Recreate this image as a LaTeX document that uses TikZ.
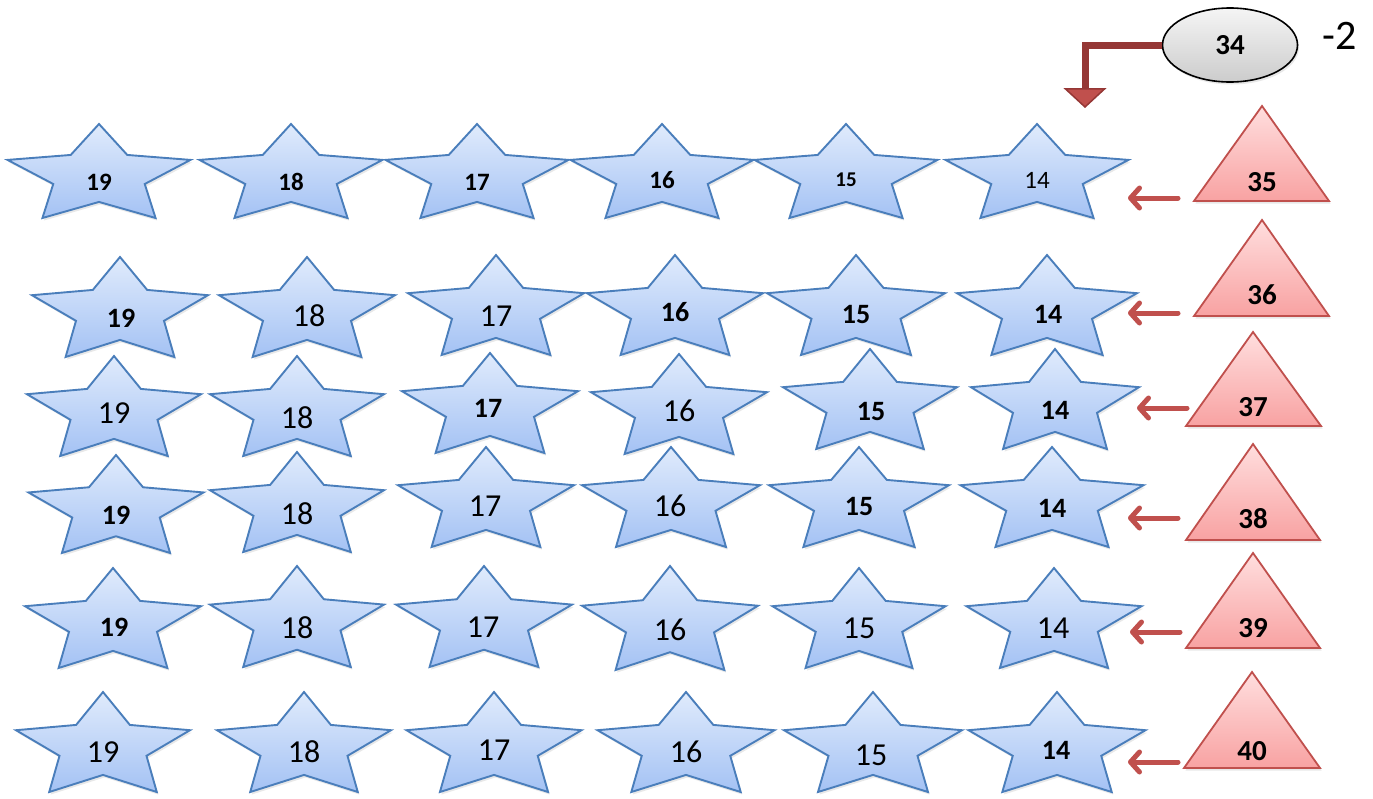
\documentclass[tikz,border=0pt]{standalone}
\usepackage{fontspec}
\setmainfont{Carlito}
\usetikzlibrary{arrows.meta,shapes.geometric,shadows,calc}
\definecolor{starTop}{HTML}{E0EBFC}
\definecolor{starBot}{HTML}{A4C2F4}
\definecolor{starLine}{HTML}{4A7EBB}
\definecolor{triTop}{HTML}{FFDEDE}
\definecolor{triBot}{HTML}{F8A2A2}
\definecolor{triLine}{HTML}{C0504D}
\definecolor{arrRed}{HTML}{C0504D}
\definecolor{elbowRed}{HTML}{953735}
\tikzset{
  starsty/.style={draw=starLine, line width=1.9pt, line join=miter, top color=starTop, bottom color=starBot,
    drop shadow={opacity=0.18, shadow xshift=1.5pt, shadow yshift=-2.5pt}},
  tristy/.style={draw=triLine, line width=1.8pt, top color=triTop, bottom color=triBot,
    drop shadow={opacity=0.18, shadow xshift=1.5pt, shadow yshift=-2.5pt}},
  lr/.style={inner sep=0pt, font=\fontsize{32}{34}\selectfont},
  lb/.style={inner sep=0pt, font=\fontsize{28}{30}\selectfont\bfseries},
  lbone/.style={inner sep=0pt, font=\fontsize{25}{27}\selectfont\bfseries},
  lbsmall/.style={inner sep=0pt, font=\fontsize{21}{23}\selectfont\bfseries},
  lrone/.style={inner sep=0pt, font=\fontsize{25}{27}\selectfont},
  tlbl/.style={inner sep=0pt, font=\fontsize{29}{31}\selectfont\bfseries},
  shortarr/.style={draw=arrRed, line width=5pt, line cap=round, -{Straight Barb[length=9pt, width=20pt, round]}},
  elbow/.style={draw=elbowRed, line width=7pt, -{Triangle[length=20pt, width=43pt, fill=arrRed, line width=1.5pt]}}
}
% star: name, cx, ytop, W, H, label x, label y, label style, text
\newcommand\StarAt[9]{%
  \path[starsty, shift={(#2,{-(#3)-(#5)/1.809})}, xscale={(#4)/1.902}, yscale={(#5)/1.809}]
    (90:1) -- (54:0.5) -- (18:1) -- (-18:0.5) -- (-54:1) -- (-90:0.5)
    -- (-126:1) -- (-162:0.5) -- (162:1) -- (126:0.5) -- cycle;
  \node[#8] (#1) at (#6,-#7) {#9};
}
% triangle: name, apex x, apex y, base left, base right, base y, label x, label y, text
\newcommand\TriAt[9]{%
  \path[tristy] (#2,-#3) -- (#5,-#6) -- (#4,-#6) -- cycle;
  \node[tlbl] (#1) at (#7,-#8) {#9};
}
\begin{document}
\begin{tikzpicture}[x=1pt, y=1pt]
\useasboundingbox (0,0) rectangle (1373,-798);
\fill[white] (0,0) rectangle (1373,-798);

% Row 1
\StarAt{s1n19}{99}{124}{183}{94}{99}{182}{lbone}{19}
\StarAt{s1n18}{291}{124}{183}{94}{291}{182}{lbone}{18}
\StarAt{s1n17}{477}{124}{183}{94}{477}{182}{lbone}{17}
\StarAt{s1n16}{662}{124}{183}{94}{662}{180}{lbone}{16}
\StarAt{s1n15}{846}{124}{183}{94}{846}{180}{lbsmall}{15}
\StarAt{s1n14}{1037}{124}{183}{94}{1037}{180}{lrone}{14}

% Row 2
\StarAt{s2n19}{120}{257}{176}{100}{121}{318}{lb}{19}
\StarAt{s2n18}{307}{257}{176}{100}{309}{316}{lr}{18}
\StarAt{s2n17}{496}{255}{176}{100}{496}{316}{lr}{17}
\StarAt{s2n16}{675}{255}{176}{100}{675}{312}{lb}{16}
\StarAt{s2n15}{856}{255}{178}{100}{856}{314}{lb}{15}
\StarAt{s2n14}{1047}{255}{180}{100}{1048}{314}{lb}{14}

% Row 3
\StarAt{s3n19}{114}{356}{174}{100}{114}{413}{lr}{19}
\StarAt{s3n18}{297}{356}{174}{100}{297}{418}{lr}{18}
\StarAt{s3n17}{490}{353}{176}{100}{488}{408}{lb}{17}
\StarAt{s3n16}{679}{354}{176}{100}{679}{411}{lr}{16}
\StarAt{s3n15}{870}{349}{174}{100}{871}{411}{lb}{15}
\StarAt{s3n14}{1055}{349}{168}{100}{1055}{410}{lb}{14}

% Row 4
\StarAt{s4n19}{116}{455}{175}{98}{116}{515}{lb}{19}
\StarAt{s4n18}{297}{452}{174}{100}{297}{514}{lr}{18}
\StarAt{s4n17}{486}{447}{176}{100}{485}{506}{lr}{17}
\StarAt{s4n16}{671}{447}{178}{100}{670}{506}{lr}{16}
\StarAt{s4n15}{859}{447}{180}{100}{859}{506}{lb}{15}
\StarAt{s4n14}{1052}{447}{183}{100}{1052}{508}{lb}{14}

% Row 5
\StarAt{s5n19}{113}{568}{176}{100}{114}{627}{lb}{19}
\StarAt{s5n18}{297}{566}{174}{101}{297}{628}{lr}{18}
\StarAt{s5n17}{484}{566}{176}{101}{483}{627}{lr}{17}
\StarAt{s5n16}{670}{566}{176}{104}{670}{630}{lr}{16}
\StarAt{s5n15}{859}{568}{173}{100}{859}{628}{lr}{15}
\StarAt{s5n14}{1054}{568}{175}{100}{1053}{628}{lr}{14}

% Row 6
\StarAt{s6n19}{103}{692}{174}{100}{103}{752}{lr}{19}
\StarAt{s6n18}{304}{692}{174}{100}{304}{752}{lr}{18}
\StarAt{s6n17}{494}{692}{175}{100}{494}{750}{lr}{17}
\StarAt{s6n16}{686}{692}{177}{100}{686}{752}{lr}{16}
\StarAt{s6n15}{873}{692}{178}{100}{871}{755}{lr}{15}
\StarAt{s6n14}{1057}{692}{177}{100}{1056}{750}{lb}{14}

% Triangles
\TriAt{t35}{1262}{106}{1194}{1329}{201}{1262}{182}{35}
\TriAt{t36}{1262}{220}{1194}{1329}{316}{1262}{295}{36}
\TriAt{t37}{1253}{332}{1186}{1321}{426}{1253}{407}{37}
\TriAt{t38}{1253}{444}{1186}{1320}{540}{1253}{519}{38}
\TriAt{t39}{1253}{553}{1186}{1320}{648}{1253}{628}{39}
\TriAt{t40}{1252}{672}{1184}{1320}{768}{1252}{751}{40}

% short arrows
\draw[shortarr] ($(t35)+(-84,-16)$) -- ($(s1n14)+(91,-18)$);
\draw[shortarr] ($(t36)+(-84,-18)$) -- ($(s2n14)+(80,1)$);
\draw[shortarr] ($(t37)+(-66,-1)$) -- ($(s3n14)+(82,2)$);
\draw[shortarr] ($(t38)+(-75,1)$) -- ($(s4n14)+(76,-10)$);
\draw[shortarr] ($(t39)+(-73,-4)$) -- ($(s5n14)+(77,-4)$);
\draw[shortarr] ($(t40)+(-74,-11)$) -- ($(s6n14)+(72,-12)$);

% ellipse and elbow arrow
\node[ellipse, draw=black, line width=1.6pt, minimum width=135pt, minimum height=74pt, inner sep=0pt,
      top color=gray!8, bottom color=gray!40,
      drop shadow={opacity=0.18, shadow xshift=1.5pt, shadow yshift=-2.5pt},
      font=\fontsize{29}{31}\selectfont\bfseries] (e34) at (1230,-45) {34};
\node[inner sep=0pt, font=\fontsize{42}{44}\selectfont] (m2) at (1340,-36) {-2};
\coordinate (etip) at (1085,-108);
\draw[elbow] (e34.west) -| (etip);
\end{tikzpicture}
\end{document}
